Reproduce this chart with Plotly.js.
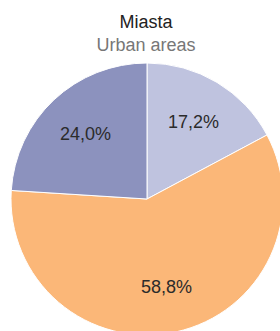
<!DOCTYPE html>
<html>
<head>
<meta charset="utf-8">
<script src="https://cdn.plot.ly/plotly-3.0.1.min.js"></script>
<style>
html,body{margin:0;padding:0;overflow:hidden;background:#fff;width:280px;height:331px;}
#chart{width:300px;height:340px;}
</style>
</head>
<body>
<div id="chart"></div>
<script>
var categories = ["Kategoria 1", "Kategoria 2", "Kategoria 3"];
var shares = [17.2, 58.8, 24.0];
var sliceColors = ["#bfc3df", "#fbb778", "#8c92be"];
var titleMain = "Miasta";
var titleSub = "Urban areas";

var labelFont = {family: "Liberation Sans, Arial, sans-serif", size: 18, color: "#2b2b2b"};

var trace = {
  type: "pie",
  labels: categories,
  values: shares,
  sort: false,
  direction: "clockwise",
  rotation: 0,
  marker: {colors: sliceColors, line: {color: "#ffffff", width: 1}},
  textinfo: "none",
  hoverinfo: "none",
  showlegend: false
};

// percentage labels placed at each slice's mid-angle (derived from the data)
var total = shares.reduce(function (a, b) { return a + b; }, 0);
var labelRadius = 0.66;
var annotations = [];
var cum = 0;
shares.forEach(function (v) {
  var mid = (cum + v / 2) / total * 2 * Math.PI;
  cum += v;
  annotations.push({
    xref: "paper", yref: "paper",
    x: 0.5 + 0.5 * labelRadius * Math.sin(mid),
    y: 0.5 + 0.5 * labelRadius * Math.cos(mid),
    text: v.toFixed(1).replace(".", ",") + "%",
    showarrow: false,
    font: labelFont,
    xanchor: "center", yanchor: "middle"
  });
});

var layout = {
  width: 300,
  height: 340,
  margin: {l: 11, r: 17, t: 63, b: 5},
  paper_bgcolor: "#ffffff",
  title: {
    text: titleMain + "<br><span style='color:#777777'>" + titleSub + "</span>",
    font: {family: "Liberation Sans, Arial, sans-serif", size: 18, color: "#222222"},
    x: 146 / 300,
    xanchor: "center",
    xref: "container",
    y: 1 - 28 / 340,
    yanchor: "top",
    yref: "container"
  },
  annotations: annotations,
  showlegend: false
};

Plotly.newPlot("chart", [trace], layout, {displayModeBar: false, staticPlot: true});
</script>
</body>
</html>
